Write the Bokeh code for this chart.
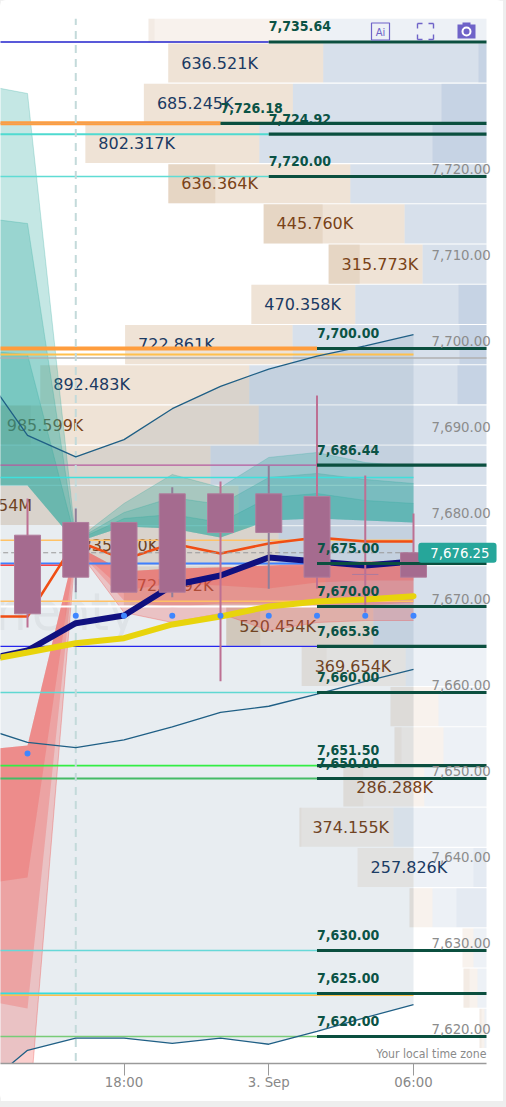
from bokeh.plotting import figure, ColumnDataSource
from bokeh.models import Range1d, LinearAxis, FixedTicker, NumeralTickFormatter, Label
from bokeh.core.properties import value
from bokeh.embed import file_html
from bokeh.resources import INLINE

# ---- time axis (hours from 3 Sep 00:00) ----
hours = [-12, -10, -8, -6, -4, -2, 0, 2, 4, 6]
time_ticks = [-6, 0, 6]
time_labels = ["18:00", "3. Sep", "06:00"]
price_ticks = [7620, 7630, 7640, 7650, 7660, 7670, 7680, 7690, 7700, 7710, 7720]

# ---- candles ----
candle_hours = [-10, -8, -6, -4, -2, 0, 2, 4, 6]
c_open = [7678.29, 7679.77, 7679.77, 7683.10, 7683.10, 7683.10, 7682.80, 7673.72, 7676.25]
c_close = [7669.15, 7673.41, 7671.66, 7671.66, 7678.60, 7678.60, 7673.41, 7673.72, 7673.41]
c_high = [7682.56, 7681.40, 7679.77, 7683.87, 7684.53, 7686.36, 7694.53, 7685.23, 7680.81]
c_low = [7667.56, 7671.66, 7671.66, 7671.08, 7661.31, 7672.06, 7672.09, 7669.30, 7673.41]

# ---- indicator lines ----
boll_upper = [7697.9, 7689.9, 7687.4, 7689.4, 7693.0, 7695.6, 7697.6, 7699.1, 7700.3, 7701.6]
boll_mid = [7656.0, 7654.2, 7653.6, 7654.5, 7656.0, 7657.7, 7658.4, 7659.8, 7661.3, 7662.7]
boll_lower = [7613.7, 7618.4, 7619.8, 7619.8, 7619.2, 7619.8, 7619.1, 7620.6, 7622.2, 7623.7]
orange_line = [7668.84, 7668.84, 7677.67, 7675.47, 7677.33, 7676.16, 7677.33, 7678.02, 7677.56, 7677.56]
navy_line = [7663.72, 7664.88, 7668.06, 7668.95, 7672.44, 7673.60, 7675.70, 7675.23, 7674.77, 7675.23]
yellow_line = [7663.60, 7664.65, 7665.73, 7666.31, 7667.91, 7668.84, 7670.00, 7670.58, 7670.81, 7671.20]
dot_hours = [-10, -8, -6, -4, -2, 0, 2, 4, 6]
dot_price = [7652.91, 7668.92, 7668.92, 7668.92, 7668.92, 7668.92, 7668.92, 7668.92, 7668.92]

# ---- teal and red envelopes ----
teal_a = [7730.70, 7729.65, 7677.67, 7681.98, 7685.35, 7683.84, 7687.33, 7687.91, 7686.74, 7686.28]
teal_b = [7715.23, 7714.53, 7677.67, 7680.93, 7682.67, 7681.86, 7685.00, 7685.47, 7684.77, 7684.30]
teal_c = [7699.77, 7699.30, 7677.67, 7680.23, 7680.70, 7679.77, 7682.67, 7683.14, 7682.33, 7681.98]
teal_base = [7684.07, 7684.07, 7677.44, 7679.30, 7679.07, 7678.02, 7680.00, 7680.23, 7680.00, 7679.77]
red_top = [7653.26, 7653.84, 7677.09, 7674.07, 7674.42, 7674.53, 7674.77, 7675.00, 7675.23, 7675.23]
red_c = [7637.67, 7638.49, 7676.86, 7671.86, 7672.67, 7672.44, 7672.09, 7672.79, 7673.02, 7673.02]
red_b = [7624.30, 7623.26, 7676.86, 7670.70, 7669.88, 7670.35, 7670.35, 7669.88, 7670.12, 7670.47]
red_a = [7610.23, 7609.07, 7676.86, 7669.30, 7668.14, 7669.19, 7667.21, 7668.14, 7668.37, 7668.37]

# ---- volume by price (thousands), top row first ----
vol_total = [676, 636.521, 685.245, 802.317, 636.364, 445.760, 315.773, 470.358, 722.861, 892.483,
             985.599, 1130, 1054, 835.900, 725.292, 520.454, 369.654, 192, 184, 286.288,
             374.155, 257.826, 154, 48, 46, 14]
vol_tan = [344, 310, 298, 348, 364, 282, 188, 208, 335, 418,
           530, 578, 558, 420, 403, 294, 208, 96, 98, 162,
           188, 112, 46, 22, 28, 10]
vol_dark_tan = [12, 0, 0, 0, 94, 118, 62, 0, 0, 0,
                74, 0, 0, 0, 0, 68, 50, 46, 14, 40,
                4, 0, 8, 0, 12, 4]
vol_dark_blue = [0, 16, 90, 108, 0, 0, 0, 56, 54, 58,
                 0, 0, 0, 0, 0, 0, 0, 0, 0, 0,
                 0, 26, 60, 0, 0, 0]
vol_brown_label = [False, False, False, False, True, True, True, False, False, False,
                   True, True, True, True, True, True, True, False, False, True,
                   True, False, False, False, False, False]
row_top_price = 7737.87
row_step = 4.677

# ---- horizontal levels ----
level_price = [7735.64, 7726.18, 7724.92, 7720.00, 7700.00, 7686.44, 7675.00, 7670.00,
               7665.36, 7660.00, 7651.50, 7650.00, 7630.00, 7625.00, 7620.00]
level_hour = [0, -2, 0, 0, 2, 2, 2, 2, 2, 2, 2, 2, 2, 2, 2]
level_color = ["#2222cc", "#ff9d3d", "#4fdad0", "#5fdcd4", "#ff9d3d", "#b65a9e", "#3f80ff", "#ffffff",
               "#2626ee", "#5fd8d2", "#33ee44", "#44bb66", "#66d8d8", "#33dde0", "#77cc77"]
level_width = [1.6, 4, 2, 1.4, 4, 1.2, 1.8, 1.8, 1.4, 1.4, 1.8, 1.8, 1.4, 2, 1.6]
extra_price = [7699.30, 7685.00, 7677.70, 7670.60, 7624.80, 7726.18]
extra_color = ["#ffc04d", "#3fe0dc", "#ffc266", "#ffc266", "#ffc04d", "#f0a25a"]
extra_width = [2, 1.5, 1.5, 1.5, 1.5, 1.2]

PX_H, PX_P = 24.125, 8.6
X0, X_END = -11.12, 9.026        # plot area proper
X1 = X_END + 17 / PX_H           # room for the last-price tag
Y0, Y1 = 7616.86, 7738.37
def hx(px):   # page chrome only (icons)
    return (px - 268.25) / PX_H
def py(y):
    return 7720 + (176 - y) / PX_P

p = figure(width=503, height=1101, frame_width=503, frame_height=1045,
           x_range=Range1d(X0, X1), y_range=Range1d(Y0, Y1),
           output_backend="svg", toolbar_location=None, y_axis_location=None,
           min_border_left=0, min_border_right=0, min_border_top=18, min_border_bottom=38,
           background_fill_color="white", border_fill_color="white", outline_line_color=None)
p.styles = {"position": "absolute", "left": "0px", "top": "0px",
            "box-shadow": "0 0 0 30px #eeeeee", "border-radius": "6px"}
p.grid.visible = False
p.extra_x_ranges["vol"] = Range1d(972, -34)
p.extra_y_ranges["ticks"] = Range1d(Y0 - 7 / PX_P, Y1 - 7 / PX_P)

xa = p.xaxis[0]
xa.ticker = FixedTicker(ticks=time_ticks)
xa.major_label_overrides = dict(zip(time_ticks, time_labels))
xa.bounds = (X0, X_END)
xa.axis_line_color = "#9a9a9a"
xa.axis_line_width = 1.5
xa.major_tick_line_color = "#9a9a9a"
xa.major_tick_in = 0
xa.major_tick_out = 12
xa.minor_tick_line_color = None
xa.major_label_text_color = "#888888"
xa.major_label_text_font = "DejaVu Sans"
xa.major_label_text_font_size = "13.3px"
xa.major_label_standoff = -1

ya = LinearAxis(y_range_name="ticks", ticker=FixedTicker(ticks=price_ticks),
                formatter=NumeralTickFormatter(format="0,0.00"))
ya.axis_line_color = None
ya.major_tick_line_color = None
ya.minor_tick_line_color = None
ya.major_label_standoff = -78
ya.major_label_text_color = "#8c8c8c"
ya.major_label_text_font = "DejaVu Sans"
ya.major_label_text_font_size = "13.3px"
p.add_layout(ya, "right")

# volume rows
LIGHT = {0, 16, 17, 18, 19, 20, 21, 22, 23, 24, 25}
n = len(vol_total)
row_y = [row_top_price - row_step * i for i in range(n)]
k = [0.45 if i in LIGHT else 1 for i in range(n)]
src = ColumnDataSource(dict(
    y=row_y, total=vol_total,
    split=[t - a for t, a in zip(vol_total, vol_tan)],
    dark_end=[t - d for t, d in zip(vol_total, vol_dark_tan)],
    dblue=vol_dark_blue,
    zero=[0] * n,
    a_tan=[0.28 * m for m in k], a_blue=[0.31 * m for m in k],
    a_dt=[0.14 * m for m in k], a_db=[0.16 * m for m in k],
))
kw = dict(y="y", height=4.55, source=src, x_range_name="vol", line_color=None)
p.hbar(left="total", right="split", fill_color="#c49a6c", fill_alpha="a_tan", **kw)
p.hbar(left="split", right="zero", fill_color="#7d9cc0", fill_alpha="a_blue", **kw)
p.hbar(left="total", right="dark_end", fill_color="#b08a5c", fill_alpha="a_dt", **kw)
p.hbar(left="dblue", right="zero", fill_color="#6f8fc0", fill_alpha="a_db", **kw)

lbl_x, lbl_y, lbl_t, lbl_c = [], [], [], []
for i, t in enumerate(vol_total):
    if t < 200 or i in (0, 11):
        continue
    lbl_x.append(t - 26)
    lbl_y.append(row_y[i])
    lbl_t.append(f"{t/1000:.3f}M" if t >= 1000 else f"{t:.3f}K")
    lbl_c.append("#7a4318" if vol_brown_label[i] else "#1b3a63")
p.text(lbl_x, lbl_y, text=lbl_t, x_range_name="vol", text_color=lbl_c, text_align="left",
       text_baseline="middle", text_font=value("DejaVu Sans"), text_font_size="16px")

# bollinger band
p.varea(hours, boll_upper, boll_lower, fill_color="#1b4f72", fill_alpha=0.1)

# watermark
p.text([hx(136)], [py(612)], text=["Currenty"], text_color="#777777", text_alpha=0.08,
       text_align="right", text_baseline="middle", text_font=value("DejaVu Sans Condensed"),
       text_font_size="52px")

# teal envelope
for top in (teal_a, teal_b, teal_c):
    p.varea(hours, top, teal_base, fill_color="#26a69a", fill_alpha=0.27)
    p.line(hours, top, line_color="#26a69a", line_alpha=0.25, line_width=1)
# red envelope
for bot in (red_a, red_b, red_c):
    p.varea(hours, red_top, bot, fill_color="#ef5350", fill_alpha=0.28)
p.line(hours, red_a, line_color="#ef5350", line_alpha=0.35, line_width=1)

# level lines (left coloured part)
p.segment([-13] * len(level_price), level_price, level_hour, level_price,
          line_color=level_color, line_width=level_width)
p.segment([-13] * len(extra_price), extra_price, [6] * len(extra_price), extra_price,
          line_color=extra_color, line_width=extra_width)
p.segment([-13], [7698.9], [X_END], [7698.9], line_color="#b0b0b0", line_width=1.5)
p.segment([-13], [7674.8], [-8], [7674.8], line_color="#ff4444", line_width=1.5)

# crosshair
p.segment([-8], [Y0 + 0.3], [-8], [Y1], line_color="#c3dada", line_width=2, line_dash="8 6")

# bollinger lines
for ln in (boll_upper, boll_mid, boll_lower):
    p.line(hours, ln, line_color="#1f5f85", line_width=1.3)

# moving lines
p.line(hours, orange_line, line_color="#f04e14", line_width=2.5)
p.line(hours, navy_line, line_color="#10107f", line_width=6)
p.line(hours, yellow_line, line_color="#e8d40c", line_width=6, line_cap="round")

# last price dashed
p.segment([-13], [7676.25], [6.5], [7676.25], line_color="#999999", line_width=1.2, line_dash="5 3")

# candles
wick_color = ["#bd7093", "#8f7f9a", "#8f7f9a", "#8f7f9a", "#bd7093", "#8f7f9a", "#bd7093", "#bd7093", "#bd7093"]
p.segment(candle_hours, c_high, candle_hours, c_low, line_color=wick_color, line_width=2)
p.vbar(candle_hours, width=26 / PX_H, top=c_open, bottom=c_close,
       fill_color="#a56b8f", line_color="#b07c9c", line_width=1)
p.scatter(dot_hours, dot_price, size=6, fill_color="#3f86ff", line_color=None)

# dark green levels and their labels
p.segment(level_hour, level_price, [X_END] * len(level_price), level_price,
          line_color="#0b4f3f", line_width=3.2)
p.text(level_hour, level_price, text=[f"{v:,.2f}" for v in level_price], text_color="#0b5345",
       text_align="left", text_baseline="alphabetic", y_offset=-15.5,
       text_font=value("DejaVu Sans Condensed"), text_font_style="bold", text_font_size="14px")

# time-zone note
p.text([X_END], [py(1054)], text=["Your local time zone"], text_color="#8a8a8a", text_align="right",
       text_baseline="alphabetic", text_font=value("DejaVu Sans Condensed"), text_font_size="12.2px")

# chrome icons
ic = "#6f63c8"
p.rect([hx(380)], [py(31)], width=18 / PX_H, height=17 / PX_P, fill_color=None, line_color=ic, line_width=1.2)
p.text([hx(380)], [py(32)], text=["Ai"], text_color=ic, text_align="center", text_baseline="middle",
       text_font=value("DejaVu Sans"), text_font_size="10px")
cx0, cx1, cy0, cy1 = 417, 433, 23, 39
for sx, sy, dx, dy in [(cx0, cy0, 1, 1), (cx1, cy0, -1, 1), (cx0, cy1, 1, -1), (cx1, cy1, -1, -1)]:
    p.segment([hx(sx)], [py(sy)], [hx(sx + 5 * dx)], [py(sy)], line_color=ic, line_width=1.4)
    p.segment([hx(sx)], [py(sy)], [hx(sx)], [py(sy + 5 * dy)], line_color=ic, line_width=1.4)
p.rect([hx(466)], [py(31)], width=18 / PX_H, height=14 / PX_P, fill_color=ic, line_color=None)
p.rect([hx(466)], [py(23.5)], width=8 / PX_H, height=3 / PX_P, fill_color=ic, line_color=None)
p.scatter([hx(466)], [py(31)], size=8, fill_color=ic, line_color="white", line_width=2)

# last-price tag
p.add_layout(Label(x=6.2, y=7676.25, text="7,676.25", text_color="white", text_align="left",
                   text_baseline="middle", text_font="DejaVu Sans", text_font_size="13.3px",
                   background_fill_color="#26a69a", padding=(12, 7, 5, 5), border_radius=3))

open("out.html", "w").write(file_html(p, INLINE))
